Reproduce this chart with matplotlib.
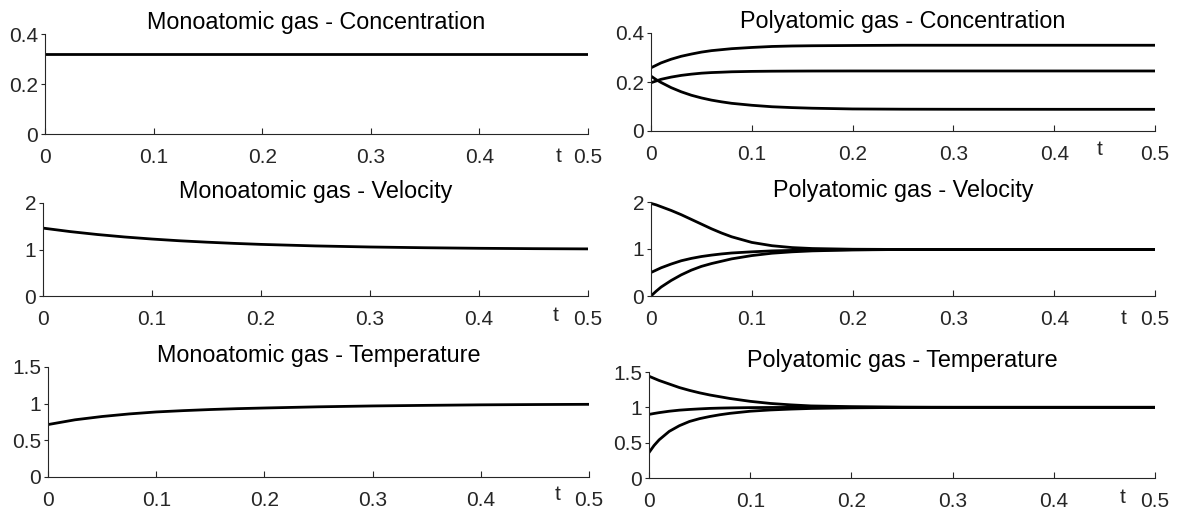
import matplotlib
matplotlib.use("Agg")
import matplotlib.pyplot as plt
from matplotlib.ticker import FuncFormatter

plt.rcParams['font.family'] = ['Liberation Sans', 'DejaVu Sans']

# time grids
t_mono = [0, 0.025, 0.05, 0.075, 0.1, 0.125, 0.15, 0.175, 0.2, 0.25, 0.3, 0.35, 0.4, 0.45, 0.5]
t_poly = [0, 0.005, 0.01, 0.02, 0.03, 0.04, 0.05, 0.06, 0.07, 0.08, 0.10,
          0.12, 0.14, 0.16, 0.20, 0.25, 0.30, 0.40, 0.50]

# monoatomic gas
mono_conc = [0.32] * 15
mono_vel = [1.46, 1.385, 1.322, 1.269, 1.225, 1.188, 1.158, 1.132, 1.110,
            1.077, 1.054, 1.038, 1.026, 1.018, 1.013]
mono_temp = [0.715, 0.78, 0.825, 0.86, 0.887, 0.905, 0.92, 0.932, 0.941,
             0.957, 0.969, 0.977, 0.984, 0.988, 0.991]

# polyatomic gas (three species each)
poly_conc = [
    [0.258, 0.268, 0.278, 0.293, 0.305, 0.314, 0.322, 0.328, 0.332, 0.336,
     0.341, 0.345, 0.347, 0.348, 0.349, 0.350, 0.350, 0.350, 0.350],
    [0.197, 0.204, 0.211, 0.220, 0.227, 0.232, 0.236, 0.2385, 0.240, 0.2417,
     0.2433, 0.2441, 0.2445, 0.2448, 0.245, 0.245, 0.245, 0.245, 0.245],
    [0.224, 0.210, 0.198, 0.177, 0.160, 0.146, 0.135, 0.126, 0.119, 0.113,
     0.105, 0.099, 0.0955, 0.093, 0.090, 0.089, 0.0887, 0.0885, 0.0885],
]
poly_vel = [
    [1.97, 1.94, 1.90, 1.82, 1.73, 1.63, 1.53, 1.43, 1.34, 1.26,
     1.14, 1.07, 1.03, 1.01, 0.995, 0.99, 0.99, 0.99, 0.99],
    [0.50, 0.55, 0.60, 0.68, 0.75, 0.80, 0.84, 0.87, 0.895, 0.915,
     0.94, 0.96, 0.97, 0.978, 0.985, 0.99, 0.99, 0.99, 0.99],
    [0.0, 0.10, 0.19, 0.33, 0.45, 0.55, 0.63, 0.69, 0.74, 0.79,
     0.86, 0.91, 0.94, 0.96, 0.98, 0.99, 0.99, 0.99, 0.99],
]
poly_temp = [
    [1.44, 1.41, 1.38, 1.33, 1.28, 1.24, 1.205, 1.175, 1.15, 1.125,
     1.085, 1.055, 1.035, 1.02, 1.01, 1.003, 1.0, 1.0, 1.0],
    [0.90, 0.913, 0.925, 0.945, 0.96, 0.97, 0.978, 0.985, 0.989, 0.992,
     0.996, 0.998, 0.999, 1.0, 1.0, 1.0, 1.0, 1.0, 1.0],
    [0.36, 0.46, 0.54, 0.66, 0.74, 0.80, 0.84, 0.87, 0.895, 0.915,
     0.945, 0.963, 0.975, 0.984, 0.993, 0.998, 1.0, 1.0, 1.0],
]

titles = [["Monoatomic gas - Concentration", "Polyatomic gas - Concentration"],
          ["Monoatomic gas - Velocity", "Polyatomic gas - Velocity"],
          ["Monoatomic gas - Temperature", "Polyatomic gas - Temperature"]]
x_ticks = [0, 0.1, 0.2, 0.3, 0.4, 0.5]
y_ticks = [[0, 0.2, 0.4], [0, 1, 2], [0, 0.5, 1, 1.5]]
mono_data = [mono_conc, mono_vel, mono_temp]
poly_data = [poly_conc, poly_vel, poly_temp]

W, H = 1179, 515
# axes boxes in pixels: (x0, x1, ytop, ybottom)
boxes = [[(45, 588, 34, 134), (651, 1155, 33, 131)],
         [(43, 588, 203, 296), (651, 1155, 202, 296)],
         [(48, 589, 367, 477), (649, 1155, 372, 478)]]
# position of the "t" label: (axes fraction, pixels below axis)
t_pos = [[(0.945, 13), (0.89, 9)],
         [(0.941, 10), (0.937, 13)],
         [(0.941, 8), (0.935, 10)]]

fig = plt.figure(figsize=(W / 100, H / 100), dpi=100)
fmt = FuncFormatter(lambda v, p: "%g" % v)
grey = "#262626"

for r in range(3):
    for c in range(2):
        x0, x1, yt, yb = boxes[r][c]
        ax = fig.add_axes([x0 / W, 1 - yb / H, (x1 - x0) / W, (yb - yt) / H])
        if c == 0:
            ax.plot(t_mono, mono_data[r], color="black", lw=2)
        else:
            for s in poly_data[r]:
                ax.plot(t_poly, s, color="black", lw=2)
        ax.set_xlim(0, 0.5)
        ax.set_ylim(y_ticks[r][0], y_ticks[r][-1])
        ax.set_xticks(x_ticks)
        ax.set_yticks(y_ticks[r])
        ax.xaxis.set_major_formatter(fmt)
        ax.yaxis.set_major_formatter(fmt)
        for side in ["top", "right"]:
            ax.spines[side].set_visible(False)
        for side in ["left", "bottom"]:
            ax.spines[side].set_color(grey)
            ax.spines[side].set_linewidth(0.8)
        ax.tick_params(axis="x", direction="in", length=4, width=0.8, color=grey,
                       labelcolor=grey, labelsize=15, pad=10)
        ax.tick_params(axis="y", direction="out", length=3, width=0.8, color=grey,
                       labelcolor=grey, labelsize=15, pad=2)
        ax.set_title(titles[r][c], fontsize=16.8, pad=2)
        fr, off = t_pos[r][c]
        ax.annotate("t", xy=(fr, 0), xycoords="axes fraction", xytext=(0, -off),
                    textcoords="offset pixels", ha="center", va="top",
                    fontsize=15, color=grey)

fig.savefig("out.png", dpi=100)
